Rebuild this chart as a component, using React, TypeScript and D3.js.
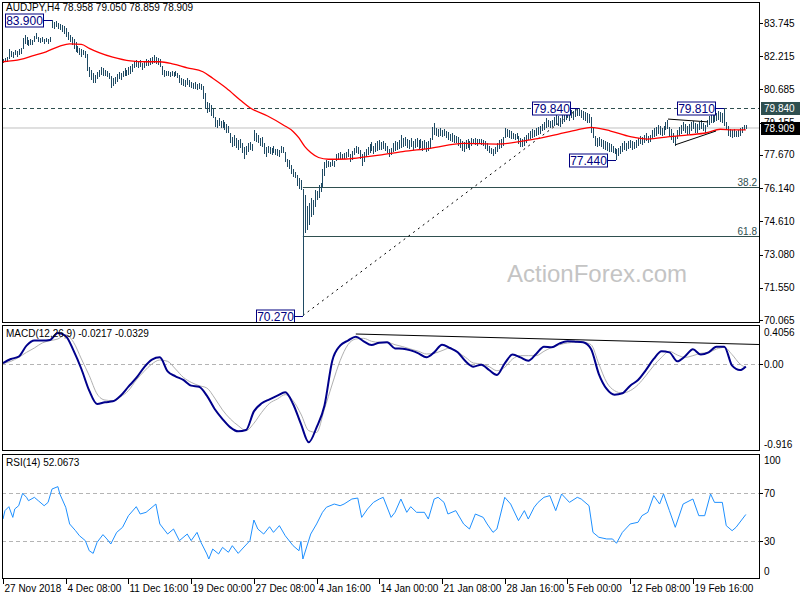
import React from 'react';
import * as d3 from 'd3';

// ---- price bars (H4), one entry per bar ----
const highs = [82.10,82.15,82.20,82.55,82.45,82.40,82.50,82.45,82.55,82.60,83.05,83.20,83.10,82.95,83.00,82.98,83.15,83.30,83.10,83.05,83.08,83.00,83.05,83.00,83.10,83.90,83.80,83.85,83.75,83.70,83.65,83.60,83.50,83.35,83.20,83.10,83.00,82.85,82.70,82.60,82.55,82.50,82.45,82.30,81.70,81.60,81.45,81.35,81.50,81.60,81.70,81.65,81.60,81.55,81.45,81.30,81.20,81.25,81.40,81.50,81.45,81.55,81.65,81.60,81.70,81.75,81.85,82.00,82.05,81.95,82.05,81.90,82.00,82.10,82.05,82.15,82.20,82.27,82.20,82.15,82.10,81.75,81.60,81.55,81.55,81.50,81.55,81.48,81.52,81.45,81.35,81.20,81.15,81.10,81.20,81.10,81.05,81.00,81.05,80.95,81.00,80.95,80.85,80.50,80.10,80.05,79.95,79.80,79.40,79.30,79.35,79.25,79.28,79.20,79.10,79.00,78.70,78.50,78.60,78.45,78.35,78.40,78.20,78.05,78.10,78.20,78.25,78.15,78.82,78.70,78.60,78.45,78.50,78.20,78.05,78.10,78.05,78.00,78.08,77.95,77.95,77.90,78.10,78.05,77.80,77.50,77.45,77.20,77.00,76.90,76.74,76.60,76.50,76.10,75.80,75.30,75.45,75.70,75.60,76.05,76.00,76.30,76.37,77.00,77.34,77.44,77.40,77.35,77.42,77.40,77.70,77.75,77.80,77.70,77.78,77.80,77.95,77.70,77.85,78.00,78.10,78.05,77.90,77.70,77.80,77.95,78.05,78.15,78.25,78.10,78.20,78.30,78.36,78.25,78.30,78.20,78.10,77.95,78.00,78.20,78.30,78.25,78.35,78.59,78.45,78.50,78.40,78.35,78.45,78.30,78.40,78.45,78.35,78.40,78.30,78.35,78.25,78.30,78.45,78.95,79.14,78.90,78.85,78.90,78.80,78.85,78.75,78.73,78.65,78.70,78.60,78.55,78.50,78.40,78.30,78.25,78.35,78.40,78.30,78.45,78.40,78.45,78.38,78.42,78.40,78.35,78.30,78.20,78.10,78.00,77.95,78.05,78.20,78.36,78.40,78.50,78.90,78.85,78.80,78.75,78.70,78.65,78.70,78.55,78.45,78.40,78.50,78.60,78.70,78.75,78.85,78.80,78.90,78.95,79.00,79.10,79.20,79.37,79.30,79.25,79.30,79.40,79.50,79.45,79.35,79.50,79.60,79.70,79.74,79.65,79.75,79.70,79.78,79.80,79.84,79.75,79.70,79.65,79.60,79.55,79.40,78.90,78.55,78.45,78.50,78.40,78.36,78.30,78.25,78.20,78.15,78.10,78.00,77.95,78.00,78.10,78.20,78.30,78.20,78.30,78.36,78.30,78.25,78.35,78.45,78.55,78.50,78.60,78.68,78.55,78.60,78.80,78.90,78.95,79.05,79.00,78.90,79.00,79.20,79.28,78.95,78.85,78.70,78.55,78.80,78.95,79.05,79.18,79.10,79.00,79.10,79.20,79.25,79.15,79.10,79.20,79.28,79.15,79.05,79.30,79.45,79.60,79.55,79.65,79.60,79.70,79.65,79.60,79.81,79.20,79.00,78.85,78.80,78.85,78.75,78.80,78.90,78.95,79.05,79.05];
const lows = [81.90,81.95,81.95,82.10,82.20,82.15,82.25,82.20,82.25,82.30,82.55,82.80,82.75,82.70,82.72,82.75,82.85,83.00,82.85,82.82,82.85,82.80,82.85,82.78,82.85,83.50,83.45,83.55,83.45,83.40,83.35,83.25,83.10,82.95,82.85,82.75,82.55,82.40,82.35,82.25,82.20,82.25,82.15,81.55,81.25,81.10,81.00,80.97,81.15,81.25,81.35,81.30,81.30,81.25,81.15,80.76,80.85,80.95,81.05,81.15,81.10,81.25,81.30,81.30,81.35,81.40,81.50,81.65,81.70,81.65,81.70,81.60,81.65,81.75,81.75,81.80,81.85,81.90,81.85,81.80,81.70,81.35,81.25,81.30,81.30,81.28,81.30,81.25,81.30,81.20,81.00,80.90,80.85,80.80,80.90,80.80,80.75,80.70,80.72,80.65,80.70,80.65,80.25,79.85,79.60,79.65,79.45,79.37,78.95,78.90,79.00,78.92,78.90,78.80,78.70,78.68,78.20,78.04,78.10,78.00,77.90,78.00,77.75,77.50,77.65,77.80,77.90,77.85,78.30,78.25,78.20,78.10,78.04,77.70,77.57,77.75,77.70,77.66,77.75,77.68,77.60,77.57,77.78,77.76,77.35,77.10,77.00,76.80,76.65,76.60,76.25,76.10,76.05,70.27,74.05,74.20,74.45,74.80,74.90,75.27,75.60,75.70,75.96,76.20,76.70,77.05,77.10,77.10,77.15,77.12,77.40,77.45,77.50,77.48,77.50,77.52,77.55,77.34,77.45,77.66,77.75,77.70,77.50,77.15,77.35,77.57,77.65,77.75,77.85,77.70,77.80,77.85,77.90,77.88,77.95,77.85,77.75,77.57,77.65,77.80,77.85,77.90,77.95,78.00,78.05,78.10,78.00,77.95,78.05,77.90,78.00,78.05,77.95,78.00,77.85,77.95,77.80,77.85,77.95,78.35,78.60,78.55,78.50,78.55,78.50,78.52,78.45,78.35,78.30,78.25,78.20,78.20,78.10,78.00,77.85,77.80,77.95,78.00,77.90,78.10,78.15,78.12,78.10,78.15,78.12,78.10,77.95,77.85,77.75,77.70,77.60,77.70,77.80,77.95,78.00,78.10,78.45,78.50,78.45,78.40,78.40,78.36,78.40,78.15,78.05,78.04,78.10,78.20,78.35,78.40,78.45,78.50,78.55,78.60,78.65,78.75,78.80,78.90,78.95,78.90,78.95,79.00,79.05,79.00,78.95,79.10,79.20,79.30,79.35,79.25,79.35,79.30,79.40,79.45,79.45,79.35,79.30,79.25,79.15,79.12,78.70,78.45,78.10,78.05,78.10,78.03,77.95,77.90,77.85,77.80,77.80,77.75,77.70,77.44,77.60,77.70,77.80,77.90,77.85,77.95,77.98,77.90,77.92,78.00,78.10,78.15,78.12,78.20,78.30,78.20,78.25,78.45,78.50,78.55,78.65,78.60,78.55,78.60,78.80,78.85,78.50,78.35,78.20,78.10,78.40,78.55,78.65,78.75,78.70,78.60,78.65,78.75,78.85,78.70,78.68,78.80,78.85,78.75,78.70,78.95,79.05,79.15,79.15,79.20,79.25,79.30,79.20,79.15,79.00,78.80,78.55,78.50,78.45,78.50,78.48,78.50,78.55,78.70,78.80,78.859];

// moving average (red) read at bar index
const maIdx = [0,9,15,22,29,34,40,44,49,56,65,73,80,87,94,102,107,114,121,126,135,143,148,151,154,157,161,166,175,186,192,204,218,235,252,269,283,293,300,310,320,329,340,350,359,366,372,379];
const maVal = [81.96,82.07,82.23,82.42,82.68,82.78,82.76,82.58,82.38,82.17,82.0,81.96,81.96,81.85,81.68,81.50,81.2,80.74,80.2,79.84,79.46,79.05,78.75,78.45,78.05,77.78,77.55,77.47,77.48,77.59,77.66,77.82,77.97,78.2,78.17,78.36,78.62,78.82,78.94,78.77,78.51,78.4,78.51,78.59,78.69,78.85,78.82,78.82];

// MACD(12,26,9), sampled every 4 bars, plus the last bar
const MACD_STEP = 4;
const macdMain = [0.014,0.057,0.081,0.198,0.251,0.251,0.258,0.332,0.300,0.145,-0.049,-0.278,-0.419,-0.401,-0.391,-0.331,-0.236,-0.144,-0.031,0.050,0.074,-0.074,-0.126,-0.165,-0.225,-0.236,-0.331,-0.472,-0.578,-0.666,-0.708,-0.694,-0.497,-0.412,-0.370,-0.331,-0.296,-0.419,-0.630,-0.824,-0.666,-0.437,0.039,0.198,0.251,0.293,0.244,0.205,0.229,0.233,0.169,0.166,0.148,0.117,0.074,0.127,0.208,0.173,0.127,0.032,-0.024,-0.003,-0.060,-0.112,0.011,0.103,0.074,0.039,0.110,0.187,0.180,0.222,0.244,0.240,0.233,0.162,-0.102,-0.260,-0.320,-0.306,-0.225,-0.165,-0.060,0.057,0.138,0.127,0.032,0.085,0.159,0.103,0.127,0.187,0.187,-0.014,-0.060];
const macdSignal = [0.011,0.032,0.074,0.127,0.173,0.226,0.251,0.268,0.314,0.233,0.057,-0.119,-0.313,-0.377,-0.384,-0.341,-0.278,-0.165,-0.074,0.004,0.046,0.032,-0.049,-0.137,-0.190,-0.225,-0.250,-0.356,-0.482,-0.578,-0.648,-0.701,-0.623,-0.507,-0.412,-0.366,-0.320,-0.384,-0.525,-0.701,-0.719,-0.472,-0.208,0.039,0.208,0.268,0.275,0.244,0.233,0.233,0.208,0.187,0.162,0.138,0.110,0.117,0.145,0.173,0.127,0.074,0.014,0.004,-0.024,-0.067,-0.031,0.057,0.092,0.092,0.092,0.138,0.180,0.208,0.226,0.233,0.233,0.208,0.004,-0.190,-0.278,-0.303,-0.278,-0.215,-0.119,-0.014,0.074,0.138,0.099,0.074,0.092,0.117,0.127,0.162,0.180,0.103,0.004];
const macdLast = [379, -0.0217, -0.0329];

// RSI(14) read at bar index
const rsiIdx = [0,1,3,5,6,8,10,12,13,16,18,21,23,25,28,29,32,34,37,39,42,44,46,48,51,53,55,58,61,64,68,70,73,78,80,84,87,90,94,96,99,101,104,105,107,110,112,115,117,120,122,126,128,130,133,136,138,141,144,148,151,152,153,157,160,163,165,169,172,174,178,181,183,186,189,192,194,198,200,203,206,208,211,215,217,220,222,225,227,231,235,238,241,245,247,250,252,256,259,263,266,268,271,273,276,279,282,285,289,293,295,299,301,304,308,311,313,316,320,324,326,329,332,335,337,340,343,347,352,355,358,361,363,367,369,372,374,379];
const rsiVal = [48.3,55.3,58.6,49.7,56.7,59.4,69.7,66.4,63.6,66.4,63.6,59.4,62.2,73.3,75.3,69.2,58.1,44.2,38.6,34.4,30.3,21.9,19.7,28.9,35.3,31.7,27.5,37.2,41.4,51.1,58.6,52.5,53.9,60.8,44.2,35.8,40,30.3,35.8,30.3,37.2,28.9,19.2,15,23.3,19.2,24.7,20.6,26.1,19.7,23.3,30.3,47.5,40,35.8,41.9,37.2,42.8,34.4,26.1,21.9,29.7,15,35.8,44.2,53.9,58.1,60.8,59.4,60.8,65,65.8,49.7,56.7,62.2,65,66.4,49.7,53.9,65,53.9,58.6,53.9,53.9,48.3,65,66.4,62.2,52.5,55.3,44.2,40,52.5,49.7,44.2,37.2,40,66.4,60.8,47,55.3,48.3,58.1,62.2,66.4,67.8,55.3,69.2,62.2,66.4,65,59.4,37.2,33.1,31.7,31.7,28.1,37.2,44.2,45.6,51.1,53.9,67.8,60.8,69.2,55.3,41.4,60.8,65,51.1,51.1,69.2,62.2,62.2,42.8,38.6,41.4,52.1];

// axis labels
const priceTicks = [83.745, 82.215, 80.685, 79.155, 77.670, 76.140, 74.610, 73.080, 71.550, 70.065];
const timeLabels = ['27 Nov 2018','4 Dec 08:00','11 Dec 16:00','19 Dec 00:00','27 Dec 08:00','4 Jan 16:00','14 Jan 00:00','21 Jan 08:00','28 Jan 16:00','5 Feb 00:00','12 Feb 08:00','19 Feb 16:00'];
const TIME_LABEL_EVERY = 32;
const rsiTicks = [100, 70, 30, 0];

// annotations
const swingLabels = [
  { i: 25, v: 83.9, text: '83.900' },
  { i: 153, v: 70.27, text: '70.270' },
  { i: 294, v: 79.84, text: '79.840' },
  { i: 313, v: 77.44, text: '77.440' },
  { i: 368, v: 79.81, text: '79.810' },
];
const fibLow = { i: 153, v: 70.27 };
const fibHigh = { i: 294, v: 79.84 };
const fibLevels = [38.2, 61.8];
const resistance = 79.84;
const lastClose = 78.909;
const triangleTop = [[339.3, 79.32], [359.7, 79.19]];
const triangleBottom = [[342.9, 78.13], [363.8, 78.77]];
const macdTrend = [[180, 0.321], [385.7, 0.21]];

const FONT = "'Liberation Sans', Arial, sans-serif";
const BAR = '#1F4A63';
const SLATE = '#2F4F4F';

export default function App() {
  const N = highs.length;
  const x = d3.scaleLinear().domain([0, N - 1]).range([3, 3 + 1.96 * (N - 1)]);
  const yMain = d3.scaleLinear().domain([70.065, 83.745]).range([320, 23]);
  const yMacd = d3.scaleLinear().domain([-0.916, 0.4056]).range([451, 326]);
  const yRsi = d3.scaleLinear().domain([0, 100]).range([577, 457]);

  const L = 2, R = 759;

  const maLine = d3.line<number>().x(k => x(maIdx[k])).y(k => yMain(maVal[k])).curve(d3.curveMonotoneX)(maIdx.map((_, k) => k)) || '';

  const macdPts = macdMain.map((v, k) => [k * MACD_STEP, v, macdSignal[k]] as [number, number, number]);
  macdPts.push([macdLast[0], macdLast[1], macdLast[2]]);
  const macdPath = d3.line<[number, number, number]>().x(d => x(d[0])).y(d => yMacd(d[1])).curve(d3.curveMonotoneX)(macdPts) || '';
  const sigPath = d3.line<[number, number, number]>().x(d => x(d[0])).y(d => yMacd(d[2])).curve(d3.curveMonotoneX)(macdPts) || '';
  const rsiPath = d3.line<number>().x(k => x(rsiIdx[k])).y(k => yRsi(rsiVal[k]))(rsiIdx.map((_, k) => k)) || '';

  const fibVal = (lvl: number) => fibHigh.v - (fibHigh.v - fibLow.v) * lvl / 100;

  const txt = { fontFamily: FONT, fontSize: 10, fill: '#000' } as any;

  return (
    <svg width={800} height={600} style={{ position: 'absolute', left: 0, top: 0, background: '#fff' }}>
      <defs>
        <clipPath id="cMain"><rect x={L} y={2} width={R - L} height={320} /></clipPath>
        <clipPath id="cMacd"><rect x={L} y={325} width={R - L} height={126} /></clipPath>
        <clipPath id="cRsi"><rect x={L} y={454} width={R - L} height={125} /></clipPath>
      </defs>
      <rect x={0} y={0} width={800} height={600} fill="#fff" />

      {/* watermark */}
      <text x={597} y={282} textAnchor="middle" fontFamily={FONT} fontSize={24} fill="#C4C4C4">ActionForex.com</text>

      <text x={6} y={11} {...txt}>AUDJPY,H4  78.958 79.050 78.859 78.909</text>

      {/* ===== main panel ===== */}
      <g clipPath="url(#cMain)">
        <line x1={L} x2={R} y1={yMain(lastClose)} y2={yMain(lastClose)} stroke="#C0C0C0" strokeWidth={1} />
        <line x1={L} x2={R} y1={Math.round(yMain(resistance)) + 0.5} y2={Math.round(yMain(resistance)) + 0.5} stroke={SLATE} strokeWidth={1} strokeDasharray="4,3" />
        {fibLevels.map(l => {
          const yy = Math.round(yMain(fibVal(l))) + 0.5;
          return (
            <g key={l}>
              <line x1={x(fibLow.i)} x2={R} y1={yy} y2={yy} stroke={SLATE} strokeWidth={1} />
              <text x={757} y={yy - 2} textAnchor="end" fontFamily={FONT} fontSize={10} fill={SLATE}>{l.toFixed(1)}</text>
            </g>
          );
        })}
        <line x1={x(fibLow.i)} y1={yMain(fibLow.v)} x2={x(fibHigh.i)} y2={yMain(fibHigh.v)} stroke="#000" strokeWidth={1} strokeDasharray="2,4" />
        {highs.map((h, i) => {
          const px = Math.round(x(i)) + 0.5;
          return <line key={i} x1={px} x2={px} y1={yMain(h)} y2={yMain(lows[i])} stroke={BAR} strokeWidth={1} shapeRendering="crispEdges" />;
        })}
        <path d={maLine} fill="none" stroke="#FF0000" strokeWidth={1.3} />
        <line x1={x(triangleTop[0][0])} y1={yMain(triangleTop[0][1])} x2={x(triangleTop[1][0])} y2={yMain(triangleTop[1][1])} stroke="#000" strokeWidth={1} />
        <line x1={x(triangleBottom[0][0])} y1={yMain(triangleBottom[0][1])} x2={x(triangleBottom[1][0])} y2={yMain(triangleBottom[1][1])} stroke="#000" strokeWidth={1} />
        {swingLabels.map(s => {
          const bx = Math.round(x(s.i));
          const by = Math.round(yMain(s.v)) + 0.5;
          const w = 38, right = bx - 9;
          return (
            <g key={s.text}>
              <line x1={right} x2={bx} y1={by} y2={by} stroke="#000080" strokeWidth={1} />
              <rect x={right - w + 0.5} y={by - 6.5} width={w} height={13} fill="#fff" stroke="#000080" strokeWidth={1} />
              <text x={right - w / 2 + 0.5} y={by + 4.5} textAnchor="middle" fontFamily={FONT} fontSize={12} fill="#000080">{s.text}</text>
            </g>
          );
        })}
      </g>
      <rect x={L + 0.5} y={2.5} width={R - L} height={320} fill="none" stroke="#000" strokeWidth={1} />
      {priceTicks.map(v => (
        <g key={v}>
          <line x1={R} x2={R + 4} y1={Math.round(yMain(v)) + 0.5} y2={Math.round(yMain(v)) + 0.5} stroke="#000" />
          <text x={764} y={yMain(v) + 3.5} {...txt}>{v.toFixed(3)}</text>
        </g>
      ))}
      <rect x={761} y={Math.round(yMain(resistance)) - 6} width={39} height={13} fill={SLATE} />
      <text x={764} y={Math.round(yMain(resistance)) + 4} {...txt} fill="#fff">{resistance.toFixed(3)}</text>
      <rect x={761} y={Math.round(yMain(lastClose)) - 6} width={39} height={13} fill="#000" />
      <text x={764} y={Math.round(yMain(lastClose)) + 4} {...txt} fill="#fff">{lastClose.toFixed(3)}</text>

      {/* ===== MACD panel ===== */}
      <g clipPath="url(#cMacd)">
        <line x1={L} x2={R} y1={Math.round(yMacd(0)) + 0.5} y2={Math.round(yMacd(0)) + 0.5} stroke="#B4B4B4" strokeDasharray="4,3" />
        <path d={sigPath} fill="none" stroke="#B0B0B0" strokeWidth={1} />
        <path d={macdPath} fill="none" stroke="#00008B" strokeWidth={2} />
        <line x1={x(macdTrend[0][0])} y1={yMacd(macdTrend[0][1])} x2={x(macdTrend[1][0])} y2={yMacd(macdTrend[1][1])} stroke="#000" strokeWidth={1} />
      </g>
      <rect x={L + 0.5} y={325.5} width={R - L} height={125} fill="none" stroke="#000" />
      <text x={6} y={337} {...txt}>MACD(12,26,9) -0.0217 -0.0329</text>
      <text x={764} y={336} {...txt}>0.4056</text>
      <line x1={R} x2={R + 4} y1={Math.round(yMacd(0)) + 0.5} y2={Math.round(yMacd(0)) + 0.5} stroke="#000" />
      <text x={764} y={yMacd(0) + 3.5} {...txt}>0.00</text>
      <text x={764} y={448} {...txt}>-0.916</text>

      {/* ===== RSI panel ===== */}
      <g clipPath="url(#cRsi)">
        {[70, 30].map(l => (
          <line key={l} x1={L} x2={R} y1={Math.round(yRsi(l)) + 0.5} y2={Math.round(yRsi(l)) + 0.5} stroke="#B4B4B4" strokeDasharray="4,3" />
        ))}
        <path d={rsiPath} fill="none" stroke="#1E90FF" strokeWidth={1} />
      </g>
      <rect x={L + 0.5} y={454.5} width={R - L} height={124} fill="none" stroke="#000" />
      <text x={6} y={466} {...txt}>RSI(14) 52.0673</text>
      {rsiTicks.map(v => {
        const yy = v === 100 ? 464 : v === 0 ? 575 : yRsi(v) + 3.5;
        return (
          <g key={v}>
            {v !== 100 && v !== 0 && <line x1={R} x2={R + 4} y1={Math.round(yRsi(v)) + 0.5} y2={Math.round(yRsi(v)) + 0.5} stroke="#000" />}
            <text x={764} y={yy} {...txt}>{v}</text>
          </g>
        );
      })}

      {/* ===== time axis ===== */}
      {timeLabels.map((t, k) => {
        const tx = Math.round(x(k * TIME_LABEL_EVERY)) + 0.5;
        return (
          <g key={t}>
            <line x1={tx} x2={tx} y1={579} y2={584} stroke="#000" />
            <text x={tx + 1} y={592} {...txt}>{t}</text>
          </g>
        );
      })}
    </svg>
  );
}
